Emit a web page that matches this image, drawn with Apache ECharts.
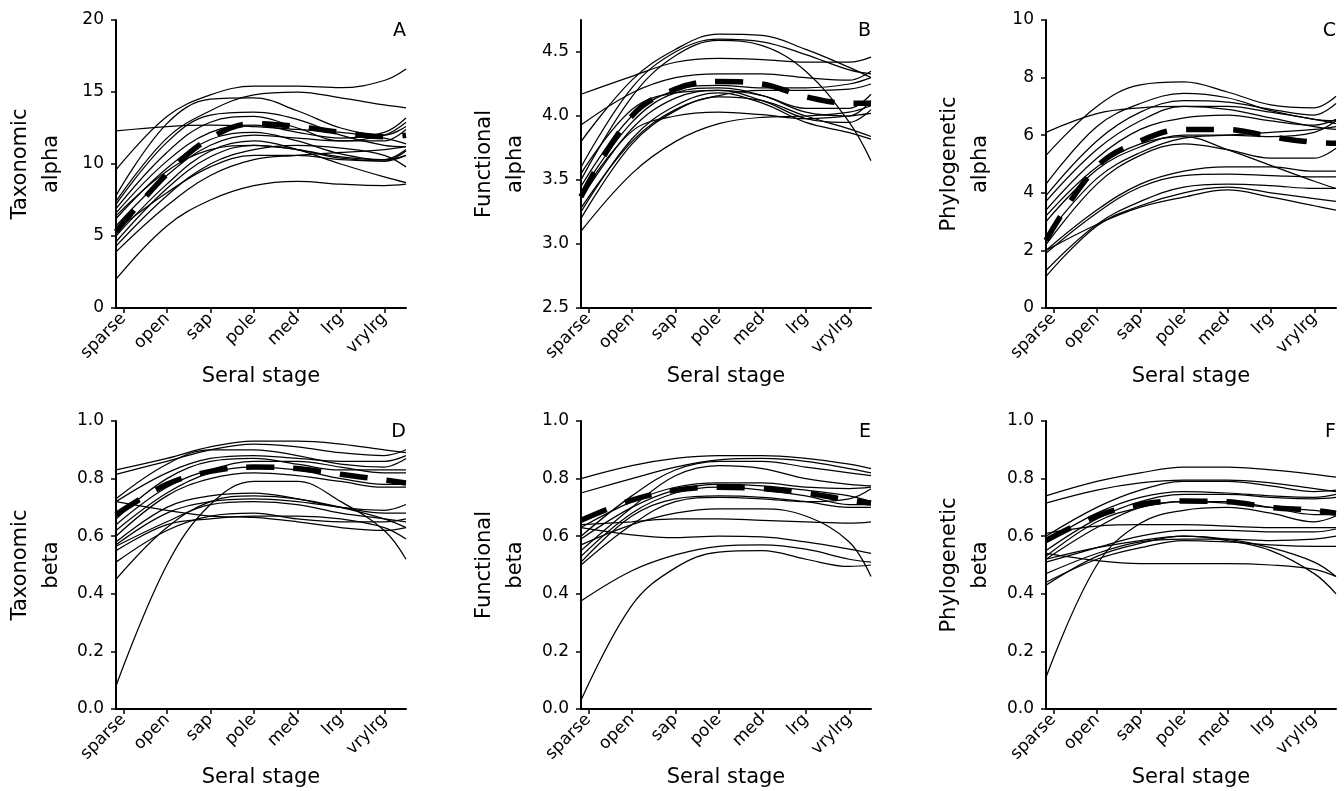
<!DOCTYPE html>
<html>
<head>
<meta charset="utf-8">
<script src="https://cdn.jsdelivr.net/npm/echarts@6/dist/echarts.min.js"></script>
<style>
html, body { margin: 0; padding: 0; background: #fff; }
#chart { width: 1344px; height: 791px; }
</style>
</head>
<body>
<div id="chart"></div>
<script>
// Seral stages shown on every x axis
const stages = ['sparse', 'open', 'sap', 'pole', 'med', 'lrg', 'vrylrg'];
// Stage positions (1 = sparse ... 7 = vrylrg) at which each fitted curve is sampled
const samplePositions = [0.83, 2, 3, 4, 5, 6, 7, 7.5];

// A: taxonomic alpha
const taxAlphaTicks = [0, 5, 10, 15, 20];
const taxAlphaCurves = [
  [9.6, 13.3, 14.8, 15.4, 15.4, 15.3, 15.8, 16.6],
  [7.8, 12.8, 14.5, 14.6, 13.7, 12.5, 12.0, 12.6],
  [7.4, 11.8, 13.7, 14.8, 15.0, 14.6, 14.1, 13.9],
  [12.3, 12.6, 12.7, 12.6, 12.4, 12.2, 11.8, 11.4],
  [7.2, 11.5, 13.4, 13.6, 13.1, 12.0, 11.3, 11.2],
  [6.9, 10.8, 12.9, 13.3, 12.5, 11.6, 11.6, 12.4],
  [6.6, 10.2, 12.2, 12.7, 12.2, 11.8, 12.2, 13.2],
  [6.2, 9.7, 11.7, 12.2, 11.6, 10.7, 10.3, 10.6],
  [5.7, 9.2, 11.3, 12.0, 11.8, 11.6, 12.0, 12.9],
  [5.0, 8.6, 10.9, 11.6, 11.0, 10.0, 9.1, 8.7],
  [4.6, 8.3, 10.5, 11.3, 11.0, 10.4, 10.2, 10.9],
  [4.3, 7.8, 10.0, 11.0, 11.3, 11.1, 10.6, 9.8],
  [3.9, 7.1, 9.2, 10.3, 10.6, 10.8, 11.0, 11.2],
  [2.0, 5.7, 7.5, 8.5, 8.8, 8.6, 8.5, 8.6],
  [6.4, 9.5, 11.0, 11.3, 11.0, 10.5, 10.3, 11.0],
  [5.4, 8.0, 9.8, 10.6, 10.6, 10.3, 10.2, 10.6]
];
const taxAlphaMean = [5.3, 9.3, 11.8, 12.8, 12.6, 12.2, 11.9, 12.0];

// B: functional alpha
const funAlphaTicks = [2.5, 3.0, 3.5, 4.0, 4.5];
const funAlphaCurves = [
  [3.80, 4.28, 4.52, 4.64, 4.63, 4.52, 4.38, 4.30],
  [3.60, 4.22, 4.50, 4.60, 4.58, 4.48, 4.36, 4.33],
  [3.50, 4.15, 4.47, 4.59, 4.55, 4.35, 3.95, 3.65],
  [4.17, 4.31, 4.42, 4.45, 4.44, 4.42, 4.42, 4.46],
  [3.93, 4.18, 4.30, 4.33, 4.33, 4.30, 4.28, 4.35],
  [3.45, 4.00, 4.20, 4.24, 4.22, 4.22, 4.25, 4.30],
  [3.40, 3.95, 4.18, 4.22, 4.16, 4.03, 4.00, 4.12],
  [3.35, 3.90, 4.14, 4.20, 4.12, 3.98, 3.95, 4.05],
  [3.25, 3.82, 4.08, 4.18, 4.10, 3.95, 3.87, 3.82],
  [3.20, 3.78, 4.04, 4.15, 4.12, 4.00, 3.90, 3.84],
  [3.28, 3.80, 4.05, 4.16, 4.20, 4.20, 4.21, 4.25],
  [3.10, 3.55, 3.80, 3.94, 3.99, 4.00, 4.03, 4.08],
  [3.55, 4.05, 4.18, 4.20, 4.16, 4.06, 4.06, 4.17],
  [3.38, 3.88, 4.00, 4.03, 4.01, 3.98, 4.00, 4.02]
];
const funAlphaMean = [3.37, 4.0, 4.21, 4.27, 4.25, 4.15, 4.1, 4.1];

// C: phylogenetic alpha
const phyAlphaTicks = [0, 2, 4, 6, 8, 10];
const phyAlphaCurves = [
  [5.3, 7.0, 7.75, 7.85, 7.5, 7.05, 6.95, 7.35],
  [4.3, 6.3, 7.1, 7.45, 7.3, 6.85, 6.55, 6.5],
  [6.1, 6.75, 6.95, 7.0, 7.0, 6.8, 6.55, 6.4],
  [3.9, 5.8, 6.8, 7.2, 7.15, 6.9, 6.7, 7.1],
  [3.7, 5.5, 6.5, 7.0, 6.9, 6.6, 6.3, 6.2],
  [3.4, 5.2, 6.2, 6.6, 6.7, 6.5, 6.35, 6.55],
  [3.2, 4.9, 5.7, 5.95, 5.5, 4.95, 4.4, 4.15],
  [2.2, 4.3, 5.3, 5.7, 5.5, 5.2, 5.2, 5.55],
  [3.0, 4.8, 5.6, 6.0, 6.0, 5.95, 6.1, 6.5],
  [2.5, 4.5, 5.4, 5.9, 6.0, 6.1, 6.2, 6.3],
  [2.0, 3.4, 4.3, 4.75, 4.9, 4.9, 4.75, 4.75],
  [1.9, 3.3, 4.2, 4.6, 4.65, 4.6, 4.55, 4.55],
  [1.3, 2.9, 3.7, 4.2, 4.3, 4.25, 4.15, 4.15],
  [1.1, 2.85, 3.55, 4.0, 4.2, 4.0, 3.8, 3.7],
  [2.0, 2.9, 3.5, 3.85, 4.1, 3.85, 3.55, 3.4]
];
const phyAlphaMean = [2.35, 4.9, 5.8, 6.2, 6.2, 5.95, 5.75, 5.72];

// D: taxonomic beta
const betaTicks = [0, 0.2, 0.4, 0.6, 0.8, 1.0];
const taxBetaCurves = [
  [0.83, 0.87, 0.91, 0.93, 0.93, 0.92, 0.90, 0.89],
  [0.815, 0.86, 0.90, 0.92, 0.91, 0.89, 0.88, 0.90],
  [0.73, 0.85, 0.90, 0.90, 0.88, 0.85, 0.84, 0.87],
  [0.72, 0.82, 0.87, 0.88, 0.87, 0.86, 0.86, 0.88],
  [0.66, 0.80, 0.86, 0.87, 0.85, 0.83, 0.83, 0.83],
  [0.64, 0.77, 0.83, 0.86, 0.86, 0.84, 0.82, 0.82],
  [0.62, 0.75, 0.82, 0.84, 0.83, 0.80, 0.78, 0.78],
  [0.60, 0.74, 0.80, 0.82, 0.81, 0.79, 0.77, 0.77],
  [0.58, 0.70, 0.74, 0.75, 0.73, 0.70, 0.69, 0.71],
  [0.57, 0.68, 0.72, 0.73, 0.72, 0.70, 0.68, 0.68],
  [0.565, 0.65, 0.71, 0.72, 0.71, 0.68, 0.66, 0.65],
  [0.72, 0.69, 0.67, 0.665, 0.65, 0.63, 0.62, 0.63],
  [0.55, 0.64, 0.66, 0.67, 0.67, 0.66, 0.63, 0.59],
  [0.51, 0.62, 0.67, 0.68, 0.66, 0.65, 0.65, 0.66],
  [0.45, 0.63, 0.72, 0.74, 0.73, 0.70, 0.66, 0.63],
  [0.08, 0.50, 0.71, 0.79, 0.79, 0.72, 0.62, 0.52]
];
const taxBetaMean = [0.675, 0.78, 0.825, 0.84, 0.835, 0.815, 0.795, 0.785];

// E: functional beta
const funBetaCurves = [
  [0.80, 0.845, 0.87, 0.88, 0.88, 0.87, 0.85, 0.835],
  [0.75, 0.80, 0.84, 0.865, 0.87, 0.86, 0.835, 0.82],
  [0.60, 0.74, 0.83, 0.86, 0.86, 0.84, 0.82, 0.81],
  [0.55, 0.70, 0.81, 0.845, 0.835, 0.80, 0.78, 0.775],
  [0.63, 0.72, 0.77, 0.785, 0.785, 0.77, 0.765, 0.77],
  [0.59, 0.70, 0.76, 0.78, 0.775, 0.76, 0.74, 0.72],
  [0.53, 0.68, 0.75, 0.77, 0.76, 0.74, 0.71, 0.71],
  [0.51, 0.67, 0.73, 0.74, 0.735, 0.72, 0.70, 0.70],
  [0.50, 0.64, 0.72, 0.735, 0.73, 0.72, 0.73, 0.765],
  [0.57, 0.64, 0.68, 0.695, 0.695, 0.67, 0.58, 0.46],
  [0.64, 0.65, 0.66, 0.66, 0.655, 0.65, 0.645, 0.65],
  [0.63, 0.605, 0.595, 0.60, 0.598, 0.58, 0.555, 0.54],
  [0.375, 0.48, 0.535, 0.565, 0.57, 0.555, 0.52, 0.51],
  [0.03, 0.36, 0.49, 0.545, 0.55, 0.52, 0.495, 0.50]
];
const funBetaMean = [0.655, 0.725, 0.76, 0.77, 0.765, 0.75, 0.725, 0.715];

// F: phylogenetic beta
const phyBetaCurves = [
  [0.74, 0.79, 0.82, 0.84, 0.84, 0.83, 0.815, 0.805],
  [0.715, 0.76, 0.785, 0.795, 0.795, 0.785, 0.765, 0.755],
  [0.60, 0.70, 0.76, 0.79, 0.79, 0.775, 0.755, 0.76],
  [0.58, 0.68, 0.735, 0.755, 0.75, 0.74, 0.735, 0.745],
  [0.55, 0.66, 0.72, 0.745, 0.745, 0.735, 0.73, 0.735],
  [0.53, 0.65, 0.70, 0.72, 0.72, 0.70, 0.675, 0.675],
  [0.52, 0.63, 0.70, 0.72, 0.715, 0.70, 0.69, 0.68],
  [0.11, 0.50, 0.645, 0.69, 0.70, 0.68, 0.65, 0.67],
  [0.61, 0.635, 0.64, 0.64, 0.635, 0.63, 0.63, 0.63],
  [0.51, 0.56, 0.60, 0.62, 0.62, 0.615, 0.615, 0.625],
  [0.47, 0.54, 0.58, 0.59, 0.59, 0.585, 0.59, 0.60],
  [0.44, 0.52, 0.56, 0.585, 0.58, 0.57, 0.565, 0.565],
  [0.43, 0.53, 0.575, 0.60, 0.59, 0.56, 0.51, 0.46],
  [0.52, 0.56, 0.585, 0.60, 0.585, 0.55, 0.47, 0.40],
  [0.54, 0.515, 0.505, 0.505, 0.505, 0.50, 0.485, 0.46]
];
const phyBetaMean = [0.585, 0.67, 0.71, 0.722, 0.72, 0.70, 0.69, 0.68];

// Panel descriptions, one per grid (row-major)
const panels = [
  { letter: 'A', name: 'Taxonomic\nalpha',    curves: taxAlphaCurves, mean: taxAlphaMean, ticks: taxAlphaTicks, min: 0,   max: 20,   digits: 0 },
  { letter: 'B', name: 'Functional\nalpha',   curves: funAlphaCurves, mean: funAlphaMean, ticks: funAlphaTicks, min: 2.5, max: 4.75, digits: 1 },
  { letter: 'C', name: 'Phylogenetic\nalpha', curves: phyAlphaCurves, mean: phyAlphaMean, ticks: phyAlphaTicks, min: 0,   max: 10,   digits: 0 },
  { letter: 'D', name: 'Taxonomic\nbeta',     curves: taxBetaCurves,  mean: taxBetaMean,  ticks: betaTicks,     min: 0,   max: 1,    digits: 1 },
  { letter: 'E', name: 'Functional\nbeta',    curves: funBetaCurves,  mean: funBetaMean,  ticks: betaTicks,     min: 0,   max: 1,    digits: 1 },
  { letter: 'F', name: 'Phylogenetic\nbeta',  curves: phyBetaCurves,  mean: phyBetaMean,  ticks: betaTicks,     min: 0,   max: 1,    digits: 1 }
];

const FONT = 'DejaVu Sans';
const colLeft = [116, 581, 1046];
const rowTop = [20, 421];
const plotW = 290;
const plotH = 288;
const stageTicks = stages.map((s, i) => i + 1);
const axisLineStyle = { color: '#000', width: 2 };
const SMOOTH = 0.38;

const toPairs = vals => vals.map((v, i) => [samplePositions[i], v]);

const grid = [], xAxis = [], yAxis = [], series = [], graphic = [];

panels.forEach((p, idx) => {
  const left = colLeft[idx % 3];
  const top = rowTop[Math.floor(idx / 3)];
  grid.push({ left: left, top: top, width: plotW, height: plotH });

  xAxis.push({
    gridIndex: idx,
    type: 'value',
    min: 0.83,
    max: 7.5,
    name: 'Seral stage',
    nameLocation: 'middle',
    nameGap: 58,
    nameTextStyle: { fontFamily: FONT, fontSize: 21, color: '#000' },
    axisLine: { show: true, onZero: false, lineStyle: axisLineStyle },
    axisTick: { show: true, inside: false, length: 5, customValues: stageTicks, lineStyle: { color: '#000', width: 1.5 } },
    axisLabel: {
      customValues: stageTicks,
      rotate: 45,
      margin: 8,
      fontFamily: FONT,
      fontSize: 17,
      color: '#000',
      formatter: v => stages[Math.round(v) - 1]
    },
    splitLine: { show: false }
  });

  yAxis.push({
    gridIndex: idx,
    type: 'value',
    min: p.min,
    max: p.max,
    name: p.name,
    nameLocation: 'middle',
    nameRotate: 90,
    nameGap: idx % 3 === 0 ? 49 : 50,
    nameTextStyle: { fontFamily: FONT, fontSize: 21, color: '#000', lineHeight: 31, align: 'center' },
    axisLine: { show: true, onZero: false, lineStyle: axisLineStyle },
    axisTick: { show: true, inside: false, length: 5, customValues: p.ticks, lineStyle: { color: '#000', width: 1.5 } },
    axisLabel: {
      customValues: p.ticks,
      margin: 12,
      fontFamily: FONT,
      fontSize: 17,
      color: '#000',
      formatter: v => v.toFixed(p.digits)
    },
    splitLine: { show: false }
  });

  p.curves.forEach(c => {
    series.push({
      type: 'line',
      xAxisIndex: idx,
      yAxisIndex: idx,
      data: toPairs(c),
      smooth: SMOOTH,
      showSymbol: false,
      silent: true,
      lineStyle: { color: '#000', width: 1.25 },
      z: 2
    });
  });

  series.push({
    type: 'line',
    xAxisIndex: idx,
    yAxisIndex: idx,
    data: toPairs(p.mean),
    smooth: SMOOTH,
    showSymbol: false,
    silent: true,
    lineStyle: { color: '#000', width: 5.5, type: [28, 19], cap: 'butt' },
    z: 3
  });

  graphic.push({
    type: 'text',
    x: left + plotW,
    y: top + 2,
    style: { text: p.letter, font: '19px ' + FONT, fill: '#000', align: 'right', verticalAlign: 'top' }
  });
});

const chart = echarts.init(document.getElementById('chart'), null, { renderer: 'canvas' });
chart.setOption({
  animation: false,
  backgroundColor: '#fff',
  grid: grid,
  xAxis: xAxis,
  yAxis: yAxis,
  series: series,
  graphic: graphic
});
</script>
</body>
</html>
